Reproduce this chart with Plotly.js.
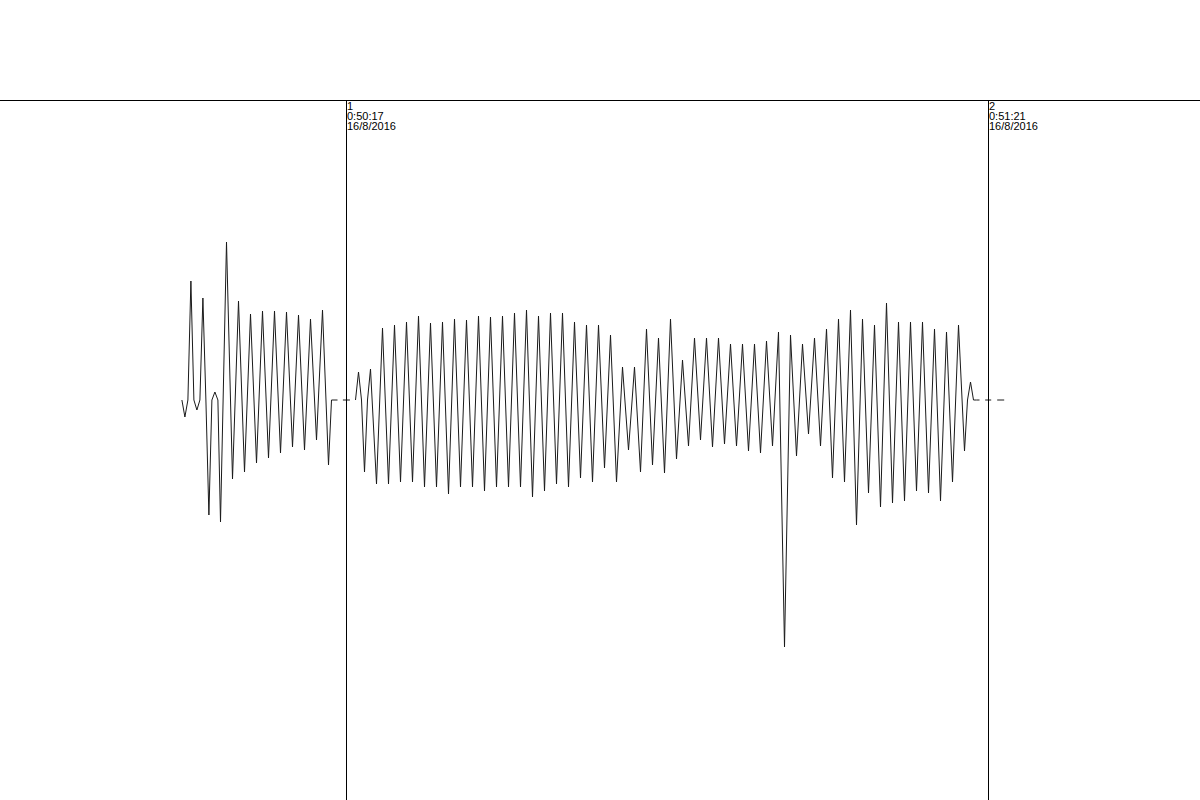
<!DOCTYPE html>
<html>
<head>
<meta charset="utf-8">
<script src="https://cdn.plot.ly/plotly-3.0.1.min.js"></script>
<style>html,body{margin:0;padding:0;background:#fff;}#chart{width:1200px;height:800px;}</style>
</head>
<body>
<div id="chart"></div>
<script>
// Time in seconds relative to marker 1 (0:50:17), amplitude in arbitrary units
const seg1HeadStart = -16.46, seg1HeadStep = 0.3;
const seg1Head = [0, -17, 0, 119, 0, -10, 0, 102, 0, -115, 0, 8, 0];
const seg1BodyStart = -12.60, seg1BodyStep = 0.6;
const seg1Body = [-122, 158, -79, 99, -72, 86, -63, 89, -58, 89, -53, 88, -47, 85, -50, 81, -40, 90, -65];
const seg1TailStart = -1.50, seg1TailStep = 0.3;
const seg1Tail = [0, 0, 0];

const seg2HeadStart = 0.90, seg2HeadStep = 0.3;
const seg2Head = [0, 28, 0, -72, 0, 31];
const seg2BodyStart = 3.00, seg2BodyStep = 0.6;
const seg2Body = [-84, 72, -84, 75, -82, 78, -82, 84, -87, 77, -87, 78, -94, 81, -87, 80, -87, 84, -91, 83,
  -87, 84, -87, 87, -87, 90, -97, 84, -91, 87, -84, 87, -87, 78, -78, 75, -82, 75, -68, 65,
  -82, 33, -50, 33, -72, 71, -65, 62, -73, 81, -59, 40, -46, 62, -40, 62, -47, 62, -44, 56,
  -46, 56, -51, 56, -53, 59, -46, 68, -247, 65, -56, 56, -34, 62, -46, 71, -78, 81, -82, 90,
  -125, 81, -93, 75, -107, 97, -103, 78, -101, 78, -91, 78, -93, 71, -101, 68, -82, 75, -51];
const seg2TailStart = 62.10, seg2TailStep = 0.3;
const seg2Tail = [0, 18, 0, 0, 0];

const baselineDashStarts = [-0.36, 63.87, 65.07];
const baselineDashEnds = [0.34, 64.47, 65.77];

const markerTimes = [0, 64.2];
const markerNumbers = ['1', '2'];
const markerClock = ['0:50:17', '0:51:21'];
const markerDates = ['16/8/2016', '16/8/2016'];

function addPart(xs, ys, start, step, vals) {
  vals.forEach((v, i) => { xs.push(+(start + step * i).toFixed(3)); ys.push(v); });
}
const sx = [], sy = [];
addPart(sx, sy, seg1HeadStart, seg1HeadStep, seg1Head);
addPart(sx, sy, seg1BodyStart, seg1BodyStep, seg1Body);
addPart(sx, sy, seg1TailStart, seg1TailStep, seg1Tail);
sx.push(null); sy.push(null);
addPart(sx, sy, seg2HeadStart, seg2HeadStep, seg2Head);
addPart(sx, sy, seg2BodyStart, seg2BodyStep, seg2Body);
addPart(sx, sy, seg2TailStart, seg2TailStep, seg2Tail);

const bx = [], by = [];
baselineDashStarts.forEach((s, i) => { bx.push(s, baselineDashEnds[i], null); by.push(0, 0, null); });

const traces = [
  {x: sx, y: sy, type: 'scatter', mode: 'lines', line: {color: '#1a1a1a', width: 1}, hoverinfo: 'skip', connectgaps: false},
  {x: bx, y: by, type: 'scatter', mode: 'lines', line: {color: '#1a1a1a', width: 1}, hoverinfo: 'skip', connectgaps: false}
];

const topLineY = 699.5 / 700;
const shapes = [{type: 'line', xref: 'paper', yref: 'paper', x0: 0, x1: 1, y0: topLineY, y1: topLineY, line: {color: '#000', width: 1}}];
const annotations = [];
const textFont = {family: 'Liberation Sans, Arial, sans-serif', size: 11, color: '#000'};
markerTimes.forEach((t, i) => {
  shapes.push({type: 'line', xref: 'x', yref: 'paper', x0: t, x1: t, y0: 0, y1: topLineY, line: {color: '#000', width: 1}});
  [markerNumbers[i], markerClock[i], markerDates[i]].forEach((txt, j) => {
    annotations.push({xref: 'x', yref: 'paper', x: t, y: 1, xanchor: 'left', yanchor: 'top',
      yshift: 1 - 10 * j, xshift: -1, text: txt, showarrow: false, font: textFont, align: 'left', borderpad: 0});
  });
});

const layout = {
  width: 1200, height: 800,
  margin: {l: 0, r: 0, t: 100, b: 0, pad: 0},
  paper_bgcolor: '#fff', plot_bgcolor: '#fff',
  showlegend: false,
  xaxis: {range: [-34.65, 85.35], visible: false, fixedrange: true},
  yaxis: {range: [-400, 300], visible: false, fixedrange: true},
  shapes: shapes,
  annotations: annotations
};
Plotly.newPlot('chart', traces, layout, {displayModeBar: false, staticPlot: true});
</script>
</body>
</html>
